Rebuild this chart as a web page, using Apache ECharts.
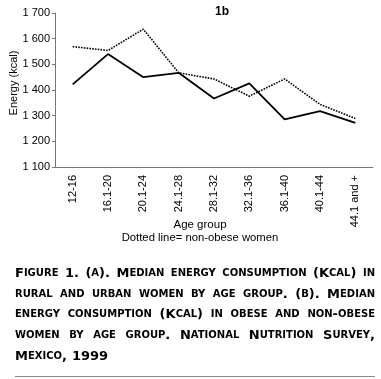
<!DOCTYPE html>
<html>
<head>
<meta charset="utf-8">
<script src="https://cdn.jsdelivr.net/npm/echarts@6/dist/echarts.min.js"></script>
<style>
  html, body { margin: 0; padding: 0; background: #fff; }
  #chart { width: 381px; height: 379px; }
</style>
</head>
<body>
<div id="chart"></div>
<script>
// age groups on the x axis
const ageGroups = ["12-16", "16.1-20", "20.1-24", "24.1-28", "28.1-32", "32.1-36", "36.1-40", "40.1-44", "44.1 and +"];
// solid line = obese women
const obese = [1422, 1540, 1450, 1467, 1367, 1426, 1286, 1318, 1272];
// dotted line = non-obese women
const nonObese = [1569, 1554, 1637, 1467, 1443, 1376, 1443, 1344, 1289];
const yTicks = [1100, 1200, 1300, 1400, 1500, 1600, 1700];

const captionLines = [
  "Figure 1. (a). Median energy consumption (Kcal) in",
  "rural and urban women by age group. (b). Median",
  "energy consumption (Kcal) in obese and non-obese",
  "women by age group. National Nutrition Survey,",
  "Mexico, 1999",
];

const NARROW = '"Liberation Sans Narrow", "Arial Narrow", "Liberation Sans", sans-serif';
const CAP_FONT = '"DejaVu Sans", sans-serif';
const BIG = 13, SMALL = 10;

// split a word into runs of capitals / small capitals
function runs(word) {
  const out = [];
  for (const ch of word) {
    const small = ch >= "a" && ch <= "z";
    const last = out[out.length - 1];
    if (last && last.small === small) last.text += ch.toUpperCase();
    else out.push({ small, text: ch.toUpperCase() });
  }
  return out;
}

const ctx = document.createElement("canvas").getContext("2d");
function wordWidth(word) {
  let w = 0;
  runs(word).forEach((r) => {
    ctx.font = "bold " + (r.small ? SMALL : BIG) + "px " + CAP_FONT;
    w += ctx.measureText(r.text).width;
  });
  return w;
}
function richWord(word) {
  return runs(word).map((r) => "{" + (r.small ? "s" : "b") + "|" + r.text + "}").join("");
}

// caption: one rich text per line, justified with fixed-width gap tokens
const capLeft = 15, capRight = 375, capTop = 267, capStep = 20.7;
const captionGraphics = captionLines.map((line, i) => {
  const words = line.split(" ");
  const total = words.map(wordWidth).reduce((a, b) => a + b, 0);
  const last = i === captionLines.length - 1;
  const gap = last ? 5 : (capRight - capLeft - total) / (words.length - 1);
  return {
    type: "text",
    left: capLeft,
    top: capTop + i * capStep,
    style: {
      text: words.map(richWord).join("{g| }"),
      fill: "#000",
      rich: {
        b: { fontSize: BIG, fontWeight: "bold", fontFamily: CAP_FONT, fill: "#000", lineHeight: 16 },
        s: { fontSize: SMALL, fontWeight: "bold", fontFamily: CAP_FONT, fill: "#000", lineHeight: 16 },
        g: { fontSize: SMALL, width: gap, lineHeight: 16 },
      },
    },
  };
});

const chart = echarts.init(document.getElementById("chart"));

const option = {
  animation: false,
  backgroundColor: "#fff",
  title: {
    text: "1b",
    left: 217,
    top: 1,
    textAlign: "center",
    textStyle: { fontSize: 12, fontWeight: "bold", fontFamily: '"Liberation Sans", sans-serif', color: "#000" },
  },
  grid: { left: 55, right: 8, top: 13, bottom: 212, outerBoundsMode: "none" },
  xAxis: {
    type: "category",
    data: ageGroups,
    boundaryGap: true,
    axisLine: { lineStyle: { color: "#777", width: 1 } },
    axisTick: { length: 4, lineStyle: { color: "#777" } },
    axisLabel: {
      rotate: 90,
      margin: 8,
      fontSize: 11,
      fontFamily: NARROW,
      color: "#000",
      interval: 0,
    },
  },
  yAxis: {
    type: "value",
    min: yTicks[0],
    max: yTicks[yTicks.length - 1],
    interval: 100,
    splitLine: { show: false },
    axisLine: { show: true, lineStyle: { color: "#777", width: 1 } },
    axisTick: { show: true, length: 3, lineStyle: { color: "#777" } },
    axisLabel: {
      margin: 5,
      fontSize: 11,
      fontFamily: NARROW,
      color: "#000",
      formatter: (v) => String(v).replace(/(\d)(\d{3})$/, "$1 $2"),
    },
  },
  series: [
    {
      name: "Obese women",
      type: "line",
      data: obese,
      symbol: "none",
      lineStyle: { color: "#000", width: 1.8 },
    },
    {
      name: "Non-obese women",
      type: "line",
      data: nonObese,
      symbol: "none",
      lineStyle: { color: "#000", width: 1.6, type: [1.6, 1.2] },
    },
  ],
  graphic: [
    {
      type: "text",
      x: 14,
      y: 83,
      rotation: Math.PI / 2,
      style: {
        text: "Energy (kcal)",
        fontSize: 11,
        fontFamily: NARROW,
        fill: "#000",
        align: "center",
        verticalAlign: "middle",
      },
    },
    {
      type: "text",
      x: 200,
      y: 225,
      style: { text: "Age group", fontSize: 11.5, fontFamily: NARROW, fill: "#000", align: "center", verticalAlign: "middle" },
    },
    {
      type: "text",
      x: 200,
      y: 238,
      style: { text: "Dotted line= non-obese women", fontSize: 11.3, fontFamily: NARROW, fill: "#000", align: "center", verticalAlign: "middle" },
    },
    {
      type: "rect",
      shape: { x: 15, y: 376, width: 360, height: 1 },
      style: { fill: "#888" },
    },
  ].concat(captionGraphics),
};

chart.setOption(option);
</script>
</body>
</html>
